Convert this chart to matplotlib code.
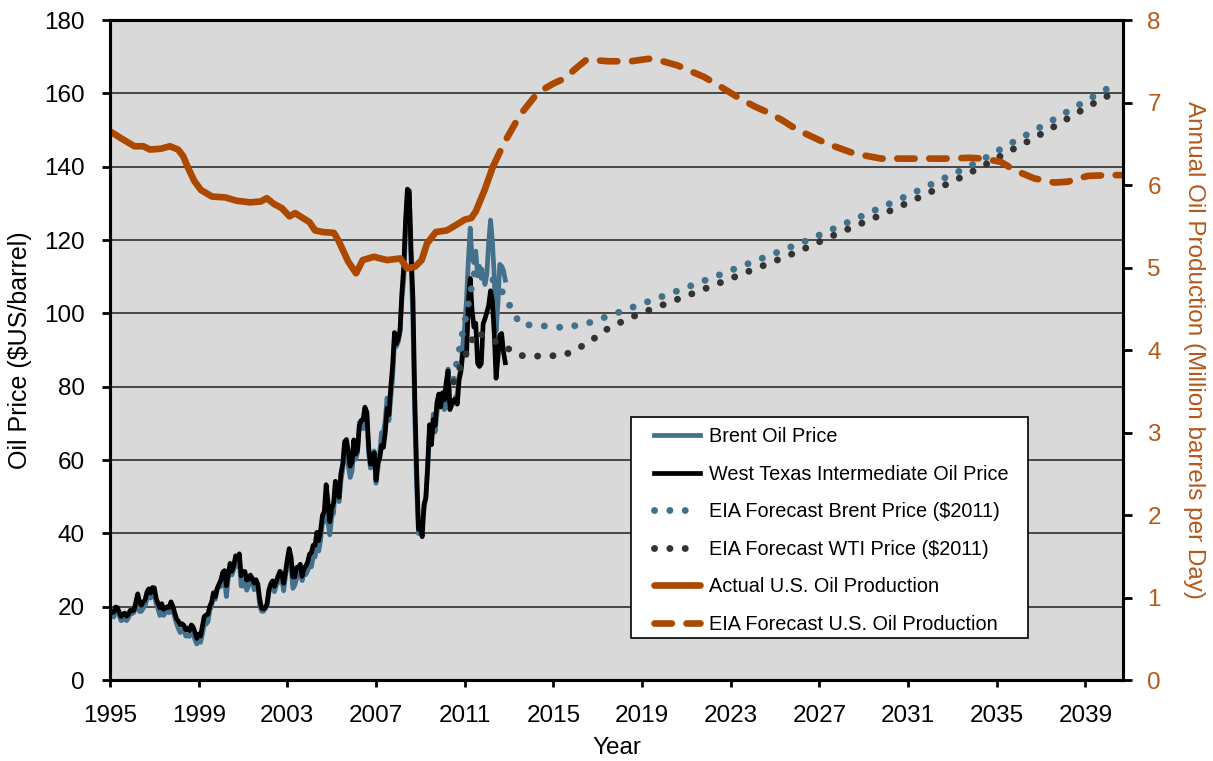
import numpy as np
import matplotlib
matplotlib.use("Agg")
import matplotlib.pyplot as plt
from matplotlib.patches import Rectangle

plt.rcParams['font.family'] = ['Liberation Sans', 'DejaVu Sans']

# monthly spot prices ($/barrel), Jan 1995 .. Nov 2012
wti = [
    18.03, 18.57, 18.54, 19.90, 19.74, 18.45, 17.33, 18.02, 18.23, 17.43, 17.99, 19.03,
    18.86, 19.09, 21.33, 23.50, 21.17, 20.42, 21.30, 21.90, 23.97, 24.88, 23.71, 25.23,
    25.13, 22.18, 20.97, 19.70, 20.82, 19.26, 19.66, 19.95, 19.80, 21.33, 20.19, 18.33,
    16.72, 16.06, 15.12, 15.35, 14.91, 13.72, 14.17, 13.47, 15.03, 14.46, 13.00, 11.35,
    12.52, 12.01, 14.68, 17.31, 17.72, 17.92, 20.10, 21.28, 23.80, 22.69, 25.00, 26.10,
    27.26, 29.37, 29.84, 25.72, 28.79, 31.82, 29.70, 31.26, 33.88, 33.11, 34.42, 28.44,
    29.59, 29.61, 27.25, 27.49, 28.63, 27.60, 26.43, 27.37, 26.20, 22.17, 19.64, 19.39,
    19.72, 20.72, 24.53, 26.18, 27.04, 25.52, 26.97, 28.39, 29.66, 28.84, 26.35, 29.46,
    32.95, 35.83, 33.51, 28.17, 28.11, 30.66, 30.75, 31.57, 28.31, 30.34, 31.11, 32.13,
    34.31, 34.69, 36.74, 36.75, 40.28, 38.03, 40.78, 44.90, 45.94, 53.28, 48.47, 43.15,
    46.84, 48.15, 54.19, 52.98, 49.83, 56.35, 59.00, 64.99, 65.59, 62.26, 58.32, 59.41,
    65.49, 61.63, 62.69, 69.44, 70.84, 70.95, 74.41, 73.04, 63.80, 58.89, 59.08, 61.96,
    54.51, 59.28, 60.44, 63.98, 63.46, 67.49, 74.12, 72.36, 79.92, 85.80, 94.77, 91.69,
    92.97, 95.39, 105.45, 112.58, 125.40, 133.88, 133.37, 116.67, 104.11, 76.61, 57.31, 41.12,
    41.71, 39.09, 47.94, 49.65, 59.03, 69.64, 64.15, 71.05, 69.41, 75.72, 77.99, 74.47,
    78.33, 76.39, 81.20, 84.29, 73.74, 75.34, 76.32, 76.60, 75.24, 81.89, 84.25, 89.15,
    89.17, 88.58, 102.86, 109.53, 100.90, 96.26, 97.30, 86.33, 85.52, 86.32, 97.16, 98.56,
    100.27, 102.20, 106.16, 103.32, 94.66, 82.30, 87.90, 94.13, 94.51, 89.49, 86.53,
]
brent = [
    17.16, 17.72, 17.17, 18.63, 18.52, 17.48, 16.18, 16.42, 16.67, 16.20, 17.05, 18.03,
    18.11, 18.50, 20.33, 20.59, 18.68, 18.75, 19.62, 20.23, 22.20, 23.42, 22.36, 23.57,
    23.52, 20.72, 19.39, 17.60, 19.02, 17.62, 18.48, 18.57, 18.35, 19.92, 18.99, 17.16,
    15.40, 14.06, 12.93, 13.34, 14.22, 11.99, 12.03, 11.91, 13.42, 12.78, 10.95, 9.82,
    11.12, 10.27, 12.51, 15.29, 15.23, 15.86, 19.08, 20.22, 22.54, 22.01, 24.58, 25.47,
    25.51, 27.78, 27.49, 22.76, 27.74, 29.80, 28.68, 30.20, 33.14, 30.96, 32.55, 25.66,
    25.62, 27.50, 24.50, 25.66, 28.31, 27.85, 24.61, 25.68, 25.62, 20.54, 18.80, 18.71,
    19.42, 20.28, 23.70, 25.73, 25.35, 24.08, 25.74, 26.65, 28.40, 27.54, 24.34, 28.33,
    31.18, 32.77, 30.61, 25.00, 25.86, 27.65, 28.35, 29.89, 27.11, 29.61, 28.75, 29.81,
    31.28, 30.86, 33.63, 33.59, 37.57, 35.18, 38.22, 42.74, 43.20, 49.78, 43.11, 39.60,
    44.51, 45.48, 53.10, 51.88, 48.65, 54.35, 57.52, 63.98, 62.91, 58.54, 55.24, 56.86,
    62.99, 60.21, 62.06, 70.26, 69.78, 68.56, 73.67, 73.23, 61.96, 57.81, 58.76, 62.47,
    53.68, 57.56, 62.05, 67.49, 67.21, 71.05, 76.93, 70.76, 77.17, 82.34, 92.41, 90.93,
    92.18, 94.99, 103.64, 109.07, 122.80, 132.32, 132.72, 113.24, 97.23, 71.58, 52.45, 39.95,
    43.44, 43.32, 46.54, 50.18, 57.30, 68.61, 64.44, 72.51, 67.65, 72.77, 76.66, 74.46,
    76.17, 73.75, 78.83, 84.82, 75.95, 74.76, 75.58, 77.04, 77.84, 82.67, 85.28, 91.45,
    96.52, 103.72, 114.64, 123.26, 114.99, 113.83, 116.97, 110.22, 112.83, 109.55, 110.77, 107.87,
    110.69, 119.33, 125.45, 119.75, 110.34, 95.16, 102.62, 113.36, 112.86, 111.71, 109.06,
]
hist_t = 1995 + np.arange(len(wti)) / 12.0

# EIA forecast prices ($2011), plotted mid-year
fc_years = [2010.5, 2011.5, 2012.5, 2013.5, 2014.5, 2015.5, 2016.5, 2017.5, 2018.5, 2019.5,
            2020.5, 2021.5, 2022.5, 2023.5, 2024.5, 2025.5, 2026.5, 2027.5, 2028.5, 2029.5,
            2030.5, 2031.5, 2032.5, 2033.5, 2034.5, 2035.5, 2036.5, 2037.5, 2038.5, 2039.5, 2040.5]
fc_brent = [82.0, 113.0, 108.0, 97.0, 96.6, 96.1, 97.2, 99.3, 101.5, 103.7,
            105.9, 108.2, 110.5, 112.9, 115.2, 117.6, 120.0, 122.7, 125.4, 128.1,
            130.8, 133.6, 136.5, 139.3, 142.4, 145.9, 149.2, 152.6, 156.1, 159.6, 163.0]
fc_wti = [81.3, 95.0, 92.0, 88.5, 88.3, 88.6, 91.7, 96.0, 98.9, 101.3,
          103.6, 105.9, 108.3, 110.7, 113.1, 115.5, 118.1, 120.9, 123.5, 126.1,
          128.8, 131.6, 134.5, 137.4, 140.6, 144.0, 147.2, 150.6, 154.2, 157.7, 160.8]

# U.S. oil production (million barrels per day)
prod_years = [1995.0, 1995.3, 1995.6, 1996.1, 1996.5, 1996.8, 1997.3, 1997.7, 1998.07, 1998.3,
              1998.5, 1998.8, 1999.1, 1999.6, 2000.2, 2000.7, 2001.3, 2001.8, 2002.07, 2002.4,
              2002.75, 2003.1, 2003.35, 2003.7, 2004.0, 2004.25, 2004.6, 2005.1, 2005.3, 2005.75,
              2006.1, 2006.4, 2006.9, 2007.5, 2008.1, 2008.4, 2008.76, 2009.06, 2009.3, 2009.7,
              2010.2, 2010.64, 2011.0, 2011.3, 2011.5, 2011.9, 2012.27]
prod_vals = [6.65, 6.60, 6.55, 6.47, 6.47, 6.43, 6.44, 6.47, 6.43, 6.35,
             6.22, 6.05, 5.94, 5.86, 5.85, 5.81, 5.79, 5.80, 5.84, 5.77,
             5.72, 5.62, 5.66, 5.60, 5.55, 5.45, 5.43, 5.42, 5.33, 5.07,
             4.93, 5.09, 5.13, 5.09, 5.11, 4.99, 5.01, 5.09, 5.29, 5.43,
             5.45, 5.52, 5.58, 5.60, 5.68, 5.94, 6.22]
prod_fc_years = [2012.27, 2012.8, 2013.5, 2014.3, 2015.0, 2015.5, 2016.0, 2016.5, 2017.5, 2018.5,
                 2019.3, 2019.8, 2020.6, 2021.1, 2021.8, 2022.5, 2023.4, 2024.1, 2024.6, 2025.3,
                 2026.0, 2027.35, 2028.6, 2029.8, 2031.3, 2032.6, 2033.8, 2034.4, 2035.2, 2035.8,
                 2036.7, 2037.6, 2038.2, 2039.1, 2040.1, 2040.8]
prod_fc_vals = [6.22, 6.52, 6.85, 7.12, 7.23, 7.29, 7.41, 7.52, 7.50, 7.50,
                7.53, 7.51, 7.45, 7.39, 7.31, 7.20, 7.05, 6.95, 6.89, 6.79,
                6.67, 6.50, 6.38, 6.32, 6.32, 6.32, 6.33, 6.32, 6.28, 6.18,
                6.08, 6.03, 6.04, 6.11, 6.12, 6.12]

BLUE, ORANGE, DARK = '#43718b', '#ad4800', '#333333'
ORANGE_TXT = '#b5581a'

fig = plt.figure(figsize=(12.13, 7.61), dpi=100)
ax = fig.add_axes([0.0907, 0.1064, 0.8351, 0.8673])
ax.set_facecolor('#d9d9d9')

l1, = ax.plot(hist_t, brent, color=BLUE, lw=3.4, label='Brent Oil Price', zorder=3)
l2, = ax.plot(hist_t, wti, color='black', lw=3.4, label='West Texas Intermediate Oil Price', zorder=4)
l3, = ax.plot(fc_years, fc_brent, color=BLUE, lw=5.0, linestyle=(0, (0.01, 2.2)),
              dash_capstyle='round', label='EIA Forecast Brent Price ($2011)', zorder=5)
l4, = ax.plot(fc_years, fc_wti, color=DARK, lw=5.0, linestyle=(0, (0.01, 2.2)),
              dash_capstyle='round', label='EIA Forecast WTI Price ($2011)', zorder=6)

ax.set_xlim(1995, 2040.7)
ax.set_ylim(0, 180)
ax.set_xticks(np.arange(1995, 2040, 4))
ax.set_yticks(np.arange(0, 181, 20))
for y in range(20, 180, 20):
    ax.axhline(y, color='#2e2e2e', lw=1.2, zorder=1)

for s in ax.spines.values():
    s.set_linewidth(2.2)
ax.tick_params(axis='y', length=6, width=2, pad=12, labelsize=17.5)
ax.tick_params(axis='x', length=5, width=2, pad=13, labelsize=17.5)
ax.set_ylabel('Oil Price ($US/barrel)', fontsize=18)
ax.yaxis.set_label_coords(-0.077, 0.5)
ax.set_xlabel('Year', fontsize=17.5)
ax.xaxis.set_label_coords(0.5, -0.087)

ax2 = ax.twinx()
l5, = ax2.plot(prod_years, prod_vals, color=ORANGE, lw=4.8, solid_capstyle='round',
               label='Actual U.S. Oil Production')
l6, = ax2.plot(prod_fc_years, prod_fc_vals, color=ORANGE, lw=4.8, linestyle=(0, (2.6, 2.2)),
               dash_capstyle='round', label='EIA Forecast U.S. Oil Production')
ax2.set_ylim(0, 8)
ax2.set_yticks(range(0, 9))
for s in ax2.spines.values():
    s.set_linewidth(2.2)
ax2.tick_params(axis='y', length=6.5, width=2, pad=11, labelsize=17.5, labelcolor=ORANGE_TXT)
ax2.set_ylabel('Annual Oil Production (Million barrels per Day)', fontsize=17.5,
               color=ORANGE_TXT, rotation=270)
ax2.yaxis.set_label_coords(1.081, 0.5)

# legend frame drawn separately so the entries sit with a wide left margin
ax2.add_patch(Rectangle((0.514, 0.0636), 0.392, 0.335, transform=ax2.transAxes,
                        facecolor='white', edgecolor='black', lw=1.2, zorder=9))
leg = ax2.legend(handles=[l1, l2, l3, l4, l5, l6], loc='upper left',
                 bbox_to_anchor=(0.537, 0.383), borderaxespad=0, borderpad=0,
                 fontsize=14.3, frameon=False, handlelength=2.3,
                 handletextpad=0.45, labelspacing=0.93)
leg.set_zorder(10)

fig.savefig('out.png', dpi=100)
